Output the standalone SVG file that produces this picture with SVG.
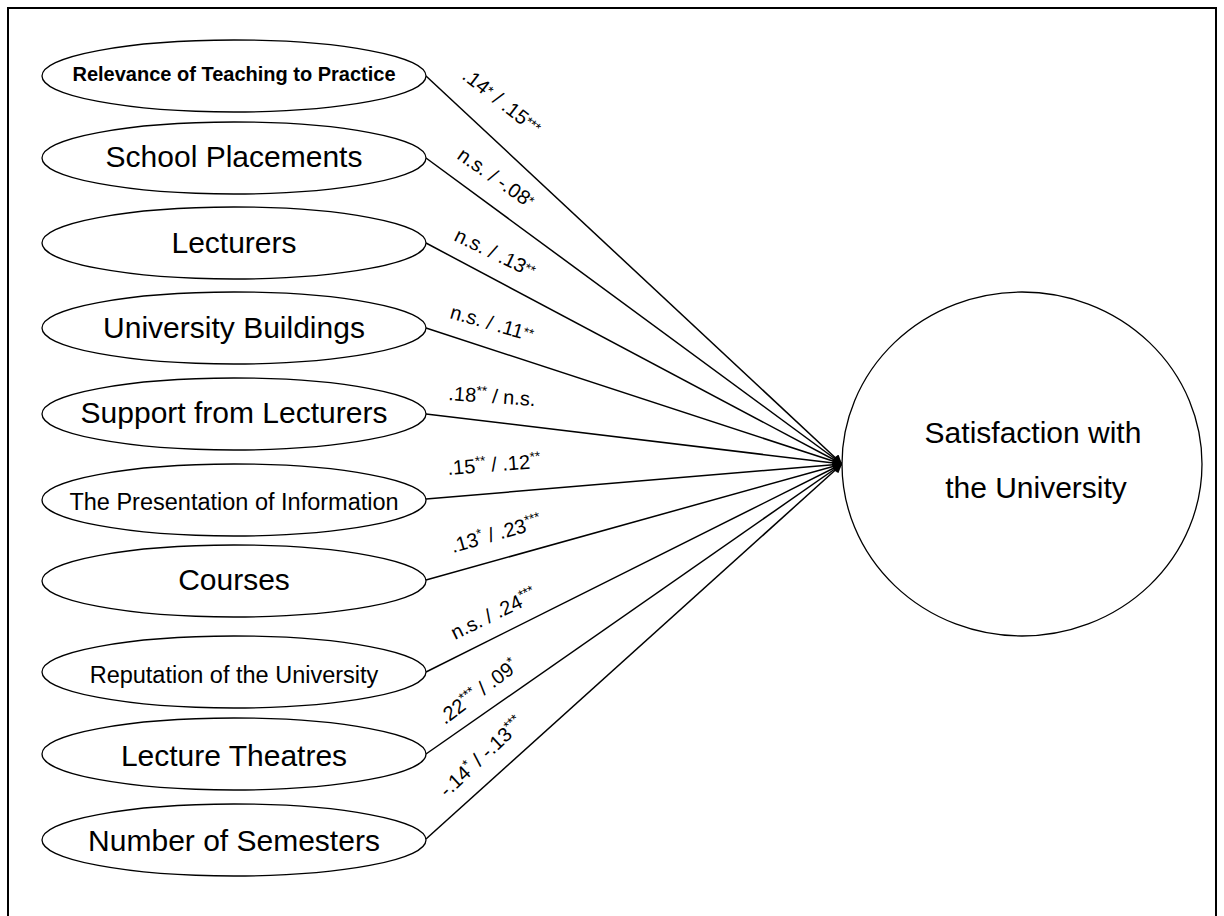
<svg xmlns="http://www.w3.org/2000/svg" width="1224" height="916" viewBox="0 0 1224 916">
<style>
.node{fill:#fff;stroke:#000;stroke-width:1.3}
.t{font-family:"Liberation Sans",Arial,sans-serif;fill:#000;text-anchor:middle}
.big{font-size:30px}
.mid{font-size:23.5px}
.lbl{font-family:"Liberation Sans",Arial,sans-serif;font-size:20px;fill:#000}
.sup{font-size:13.5px}
.conn line{stroke:#000;stroke-width:1.5}
</style>
<defs>
<marker id="arr" viewBox="0 0 10 10" refX="10" refY="5" markerUnits="userSpaceOnUse" markerWidth="11" markerHeight="9" orient="auto">
<path d="M0,0 L10,5 L0,10 z" fill="#000"/>
</marker>
</defs>
<rect x="8" y="8" width="1208" height="930" fill="#fff" stroke="#000" stroke-width="2"/>
<g class="conn" id="connectors">
<line x1="426" y1="76" x2="842" y2="464" marker-end="url(#arr)"/>
<line x1="426" y1="158" x2="842" y2="464" marker-end="url(#arr)"/>
<line x1="426" y1="243" x2="842" y2="464" marker-end="url(#arr)"/>
<line x1="426" y1="328" x2="842" y2="464" marker-end="url(#arr)"/>
<line x1="426" y1="414" x2="842" y2="464" marker-end="url(#arr)"/>
<line x1="426" y1="499" x2="842" y2="464" marker-end="url(#arr)"/>
<line x1="426" y1="580" x2="842" y2="464" marker-end="url(#arr)"/>
<line x1="426" y1="672" x2="842" y2="464" marker-end="url(#arr)"/>
<line x1="426" y1="754" x2="842" y2="464" marker-end="url(#arr)"/>
<line x1="426" y1="839" x2="842" y2="464" marker-end="url(#arr)"/>
</g>
<g id="labels">
<text class="lbl" x="461" y="78" transform="rotate(38 461 78)">.14<tspan class="sup" dy="-3">*</tspan><tspan dy="3"> / .15</tspan><tspan class="sup" dy="-3">***</tspan></text>
<text class="lbl" x="456" y="158" transform="rotate(35 456 158)">n.s. / -.08<tspan class="sup" dy="-3">*</tspan></text>
<text class="lbl" x="453" y="240" transform="rotate(26 453 240)">n.s. / .13<tspan class="sup" dy="-3">**</tspan></text>
<text class="lbl" x="449" y="318" transform="rotate(16 449 318)">n.s. / .11<tspan class="sup" dy="-3">**</tspan></text>
<text class="lbl" x="448" y="400" transform="rotate(4 448 400)">.18<tspan class="sup" dy="-7">**</tspan><tspan dy="7"> / n.s.</tspan></text>
<text class="lbl" x="448" y="475" transform="rotate(-4.5 448 475)">.15<tspan class="sup" dy="-7">**</tspan><tspan dy="7"> / .12</tspan><tspan class="sup" dy="-7">**</tspan></text>
<text class="lbl" x="453" y="553" transform="rotate(-16 453 553)">.13<tspan class="sup" dy="-7">*</tspan><tspan dy="7"> / .23</tspan><tspan class="sup" dy="-7">***</tspan></text>
<text class="lbl" x="455" y="640" transform="rotate(-26 455 640)">n.s. / .24<tspan class="sup" dy="-7">***</tspan></text>
<text class="lbl" x="445" y="725" transform="rotate(-37 445 725)">.22<tspan class="sup" dy="-7">***</tspan><tspan dy="7"> / .09</tspan><tspan class="sup" dy="-7">*</tspan></text>
<text class="lbl" x="447" y="798" transform="rotate(-43 447 798)">-.14<tspan class="sup" dy="-7">*</tspan><tspan dy="7"> / -.13</tspan><tspan class="sup" dy="-7">***</tspan></text>
</g>
<g id="n1"><ellipse class="node" cx="234" cy="76" rx="192" ry="36"/><text class="t" x="234" y="81" style="font-size:20px;font-weight:bold">Relevance of Teaching to Practice</text></g>
<g id="n2"><ellipse class="node" cx="234" cy="158" rx="192" ry="36"/><text class="t big" x="234" y="167">School Placements</text></g>
<g id="n3"><ellipse class="node" cx="234" cy="243" rx="192" ry="36"/><text class="t big" x="234" y="253">Lecturers</text></g>
<g id="n4"><ellipse class="node" cx="234" cy="328" rx="192" ry="36"/><text class="t big" x="234" y="338">University Buildings</text></g>
<g id="n5"><ellipse class="node" cx="234" cy="414" rx="192" ry="36"/><text class="t big" x="234" y="423">Support from Lecturers</text></g>
<g id="n6"><ellipse class="node" cx="234" cy="500" rx="192" ry="36"/><text class="t mid" x="234" y="510">The Presentation of Information</text></g>
<g id="n7"><ellipse class="node" cx="234" cy="581" rx="192" ry="36"/><text class="t big" x="234" y="590">Courses</text></g>
<g id="n8"><ellipse class="node" cx="234" cy="672" rx="192" ry="36"/><text class="t mid" x="234" y="683">Reputation of the University</text></g>
<g id="n9"><ellipse class="node" cx="234" cy="754" rx="192" ry="36"/><text class="t big" x="234" y="766">Lecture Theatres</text></g>
<g id="n10"><ellipse class="node" cx="234" cy="840" rx="192" ry="36"/><text class="t big" x="234" y="851">Number of Semesters</text></g>
<g id="target"><ellipse class="node" cx="1022" cy="464" rx="180" ry="172"/><text class="t big" x="1033" y="443">Satisfaction with</text><text class="t big" x="1036" y="498">the University</text></g>
</svg>
